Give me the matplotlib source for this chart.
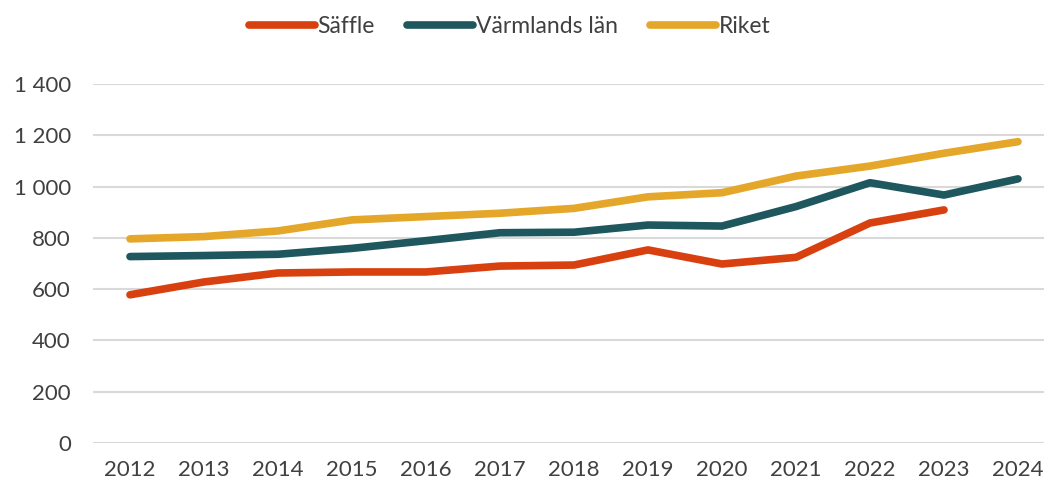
import matplotlib.pyplot as plt
from matplotlib.ticker import FuncFormatter

years = list(range(2012, 2025))
saffle = [578, 628, 663, 667, 667, 690, 694, 753, 698, 724, 858, 909]
varmland = [727, 731, 736, 759, 789, 820, 822, 850, 846, 922, 1015, 967, 1030]
riket = [796, 805, 827, 870, 883, 896, 915, 960, 976, 1041, 1080, 1130, 1175]
yticks = [0, 200, 400, 600, 800, 1000, 1200, 1400]

plt.rcParams['font.family'] = ['Lato', 'DejaVu Sans']

fig = plt.figure(figsize=(10.44, 4.84), dpi=100)
ax = fig.add_axes([93 / 1044, 41 / 484, 962 / 1044, 359 / 484])

lw = 5.5
ax.plot(years[:len(saffle)], saffle, color="#D9400F", lw=lw, solid_capstyle="round", label="Säffle")
ax.plot(years, varmland, color="#1F575E", lw=lw, solid_capstyle="round", label="Värmlands län")
ax.plot(years, riket, color="#E5A72A", lw=lw, solid_capstyle="round", label="Riket")

ax.set_xlim(2011.5, 2024.5)
ax.set_ylim(0, 1400)
ax.set_xticks(years)
ax.set_yticks(yticks)
ax.yaxis.set_major_formatter(FuncFormatter(lambda v, p: f"{int(v):,}".replace(",", " ")))
ax.grid(axis="y", color="#d9d9d9", lw=1.5)
ax.set_axisbelow(True)
for s in ax.spines.values():
    s.set_visible(False)
ax.tick_params(axis="both", length=0, labelsize=16, colors="#404040")
ax.tick_params(axis="y", pad=16)
ax.tick_params(axis="x", pad=12)

fig.legend(loc="upper center", bbox_to_anchor=(0.488, 1.01), ncol=3, frameon=False,
           fontsize=16.5, handlelength=2.9, handletextpad=0.1, columnspacing=1.4,
           labelcolor="#404040")

fig.savefig("out.png", dpi=100)
